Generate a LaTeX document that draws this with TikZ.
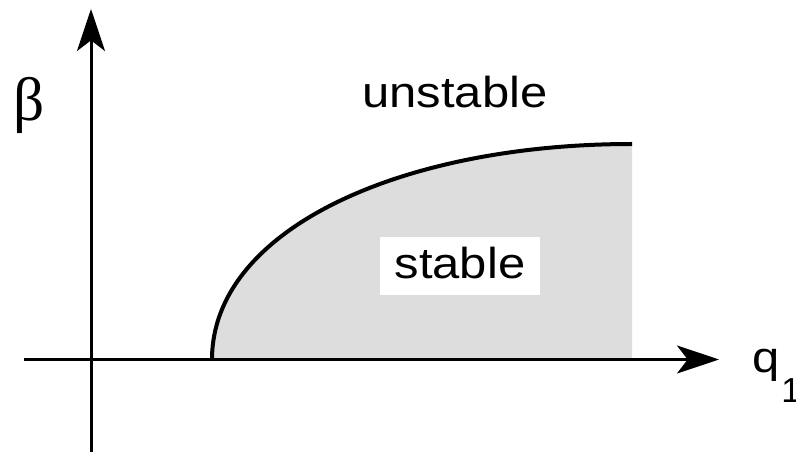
\documentclass[tikz,border=0pt]{standalone}
\usepackage{fontspec}
\setmainfont{Liberation Sans}
\newfontfamily\greekserif{Liberation Serif}
\usetikzlibrary{arrows.meta}
\definecolor{regiongray}{RGB}{221,221,221}
\begin{document}
\begin{tikzpicture}[x=0.75pt,y=-0.75pt,
  axis/.style={line width=2.25pt,-{Stealth[length=31.5pt,width=21pt,inset=8pt]}},
  boundary/.style={line width=3pt},
  lbl/.style={font=\fontsize{32.5}{36}\selectfont,inner sep=0pt,outer sep=0pt}]
\useasboundingbox (0,0) rectangle (796,452);
\coordinate (c0) at (212,359.5);
\coordinate (c1) at (632,144);
\coordinate (c2) at (632,359.5);
\fill[regiongray] (c0) .. controls (212,230) and (400,144) .. (c1) -- (c2) -- cycle;
\draw[boundary] (c0) .. controls (212,230) and (400,144) .. (c1);
\coordinate (xstart) at (24,359.5);
\coordinate (xend) at (719,359.5);
\coordinate (ystart) at (91,452);
\coordinate (yend) at (91,9);
\draw[axis] (xstart) -- (xend);
\draw[axis] (ystart) -- (yend);
\node[lbl,anchor=base] (unstable) at (455,108) {\scalebox{1.13}[1]{unstable}};
\node[lbl,fill=white,anchor=base,text width=120pt,align=center,text height=31.5pt,text depth=12pt] (stable) at (460,279) {\scalebox{1.13}[1]{stable}};
\node[inner sep=0pt,anchor=base,font=\greekserif\fontsize{46}{50}\selectfont] (beta) at (29.5,121) {β};
\node[lbl,anchor=base] (q) at (766,373) {\scalebox{1.13}[1]{q}};
\node[inner sep=0pt,anchor=base west,font=\fontsize{26}{30}\selectfont] (one) at (781,402) {1};
\end{tikzpicture}
\end{document}
